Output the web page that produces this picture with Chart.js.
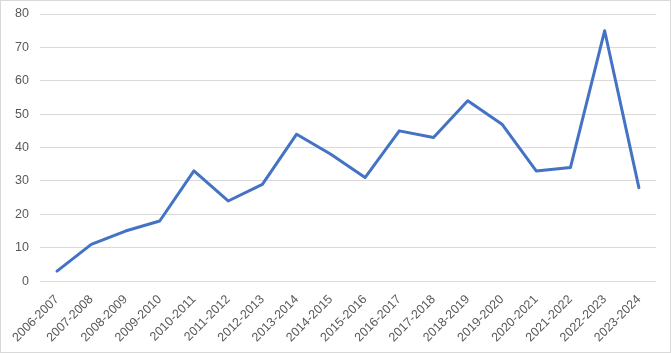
<!DOCTYPE html>
<html>
<head>
    <title>Line chart</title>
    <script src="https://cdn.jsdelivr.net/npm/chart.js"></script>
    <style>
        html, body { margin: 0; padding: 0; background: #fff; }
        .chart-container {
            width: 669px;
            height: 351px;
            border: 1px solid #d9d9d9;
            position: relative;
        }
    </style>
</head>
<body>
    <div class="chart-container"><canvas id="lineChart"></canvas></div>

    <script type="text/javascript">
        // seasons on the x axis
        var seasons = ['2006-2007', '2007-2008', '2008-2009', '2009-2010', '2010-2011', '2011-2012',
            '2012-2013', '2013-2014', '2014-2015', '2015-2016', '2016-2017', '2017-2018',
            '2018-2019', '2019-2020', '2020-2021', '2021-2022', '2022-2023', '2023-2024'];
        // values
        var counts = [3, 11, 15, 18, 33, 24, 29, 44, 38, 31, 45, 43, 54, 47, 33, 34, 75, 28];
        var yMin = 0, yMax = 80, yStep = 10;

        var ctx = document.getElementById('lineChart').getContext('2d');
        var lineChart = new Chart(ctx, {
            type: 'line',
            data: {
                labels: seasons,
                datasets: [{
                    data: counts,
                    borderColor: '#4472c4',
                    backgroundColor: '#4472c4',
                    borderWidth: 3,
                    pointRadius: 0,
                    pointHoverRadius: 0,
                    pointHitRadius: 0,
                    tension: 0,
                    borderCapStyle: 'round',
                    borderJoinStyle: 'round'
                }]
            },
            options: {
                responsive: true,
                maintainAspectRatio: false,
                animation: false,
                layout: { autoPadding: false, padding: { top: 13, right: 14, bottom: 4, left: 14 } },
                plugins: {
                    legend: { display: false },
                    tooltip: { enabled: false }
                },
                scales: {
                    x: {
                        offset: true,
                        grid: { display: false },
                        border: { display: false },
                        ticks: {
                            color: '#595959',
                            font: { family: 'Liberation Sans, Arial', size: 12.5 },
                            maxRotation: 45,
                            minRotation: 45,
                            autoSkip: false,
                            padding: 3
                        }
                    },
                    y: {
                        min: yMin,
                        max: yMax,
                        // tick marks kept invisible, they only make room between labels and plot
                        grid: { color: '#d9d9d9', drawTicks: true, tickLength: 11, tickColor: 'rgba(0,0,0,0)', lineWidth: 1 },
                        border: { display: false },
                        ticks: {
                            stepSize: yStep,
                            color: '#595959',
                            font: { family: 'Liberation Sans, Arial', size: 12.5 },
                            padding: 0
                        }
                    }
                }
            }
        });
    </script>
</body>
</html>
